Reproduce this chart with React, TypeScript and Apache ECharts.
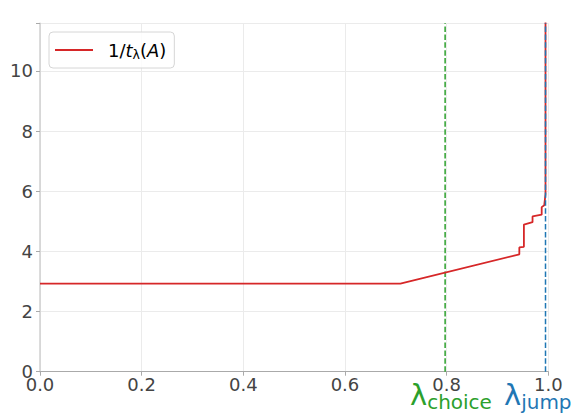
import React, { useEffect, useRef } from "react";
import * as echarts from "echarts";

const xTicks = [0, 0.2, 0.4, 0.6, 0.8, 1.0];
const yTicks = [0, 2, 4, 6, 8, 10];
const curveX = [0, 0.709, 0.943, 0.943, 0.952, 0.952, 0.969, 0.969, 0.987, 0.987, 0.992, 0.9945, 0.9945];
const curveY = [2.93, 2.93, 3.9, 4.13, 4.15, 4.89, 4.97, 5.16, 5.22, 5.47, 5.53, 5.9, 14];
const lambdaChoice = 0.797;
const lambdaJump = 0.9945;
const yMax = 11.58;

const FONT = "DejaVu Sans";

export default function App() {
  const ref = useRef<HTMLDivElement>(null);
  useEffect(() => {
    if (!ref.current) return;
    const chart = echarts.init(ref.current, undefined, { renderer: "svg" });
    const curve = curveX.map((x, i) => [x, curveY[i]]);
    chart.setOption({
      animation: false,
      backgroundColor: "#ffffff",
      textStyle: { fontFamily: FONT },
      grid: { left: 40, right: 27.7, top: 23.3, bottom: 46.3, containLabel: false },
      legend: {
        left: 49,
        top: 32,
        data: ["curve"],
        icon: "rect",
        itemWidth: 38,
        itemHeight: 2,
        padding: [7, 8, 7, 6],
        borderColor: "#d6d6d6",
        borderWidth: 1,
        borderRadius: 4,
        backgroundColor: "rgba(255,255,255,0.85)",
        formatter: () => "{n|1/}{i|t}{s|λ}{n|(}{i|A}{n|)}",
        textStyle: {
          padding: [0, 0, 0, 10],
          rich: {
            n: { fontSize: 18, fontFamily: FONT, color: "#000", lineHeight: 22 },
            i: { fontSize: 18, fontFamily: FONT, fontStyle: "italic", color: "#000", lineHeight: 22 },
            s: { fontSize: 12.5, fontFamily: FONT, color: "#000", padding: [9, 0, 0, 0], lineHeight: 14 },
          },
        },
      },
      xAxis: {
        type: "value",
        min: 0,
        max: 1,
        interval: 0.2,
        axisLine: { show: true, lineStyle: { color: "#aaaaaa", width: 1 } },
        axisTick: { show: true, length: 4, lineStyle: { color: "#aaaaaa" } },
        axisLabel: {
          fontSize: 18,
          color: "#444444",
          margin: 4,
          fontFamily: FONT,
          formatter: (v: number) => (xTicks.some((t) => Math.abs(t - v) < 1e-9) ? v.toFixed(1) : ""),
        },
        splitLine: { show: true, lineStyle: { color: "#ebebeb", width: 1 } },
      },
      yAxis: {
        type: "value",
        min: 0,
        max: yMax,
        interval: 2,
        axisLine: { show: true, lineStyle: { color: "#d0d0d0", width: 1.5 } },
        axisTick: { show: true, length: 4, lineStyle: { color: "#aaaaaa" } },
        axisLabel: {
          fontSize: 18,
          color: "#444444",
          margin: 7,
          fontFamily: FONT,
          formatter: (v: number) => (yTicks.includes(v) ? String(v) : ""),
        },
        splitLine: { show: true, lineStyle: { color: "#ebebeb", width: 1 } },
      },
      series: [
        {
          name: "curve",
          type: "line",
          data: curve,
          showSymbol: false,
          symbol: "none",
          clip: true,
          lineStyle: { color: "#d62728", width: 1.8 },
          itemStyle: { color: "#d62728" },
          z: 3,
        },
        {
          name: "choice",
          type: "line",
          data: [[lambdaChoice, 0], [lambdaChoice, yMax]],
          showSymbol: false,
          symbol: "none",
          lineStyle: { color: "#2ca02c", width: 1.5, type: [5.5, 2.4] },
          z: 2,
        },
        {
          name: "jump",
          type: "line",
          data: [[lambdaJump, 0], [lambdaJump, yMax]],
          showSymbol: false,
          symbol: "none",
          lineStyle: { color: "#1f77b4", width: 1.5, type: [5.5, 2.4] },
          z: 4,
        },
      ],
      graphic: [
        {
          type: "text",
          left: 410,
          top: 377,
          style: {
            text: "{l|λ}{s|choice}",
            rich: {
              l: { fontSize: 29, fontFamily: FONT, fill: "#2ca02c", lineHeight: 32 },
              s: { fontSize: 20, fontFamily: FONT, fill: "#2ca02c", padding: [15, 0, 0, 0], lineHeight: 22 },
            },
          },
        },
        {
          type: "text",
          left: 504,
          top: 377,
          style: {
            text: "{l|λ}{s|jump}",
            rich: {
              l: { fontSize: 29, fontFamily: FONT, fill: "#1f77b4", lineHeight: 32 },
              s: { fontSize: 20, fontFamily: FONT, fill: "#1f77b4", padding: [15, 0, 0, 0], lineHeight: 22 },
            },
          },
        },
      ],
    });
    return () => chart.dispose();
  }, []);
  return (
    <div
      ref={ref}
      style={{ position: "fixed", left: 0, top: 0, width: 576, height: 418, background: "#fff" }}
    />
  );
}
